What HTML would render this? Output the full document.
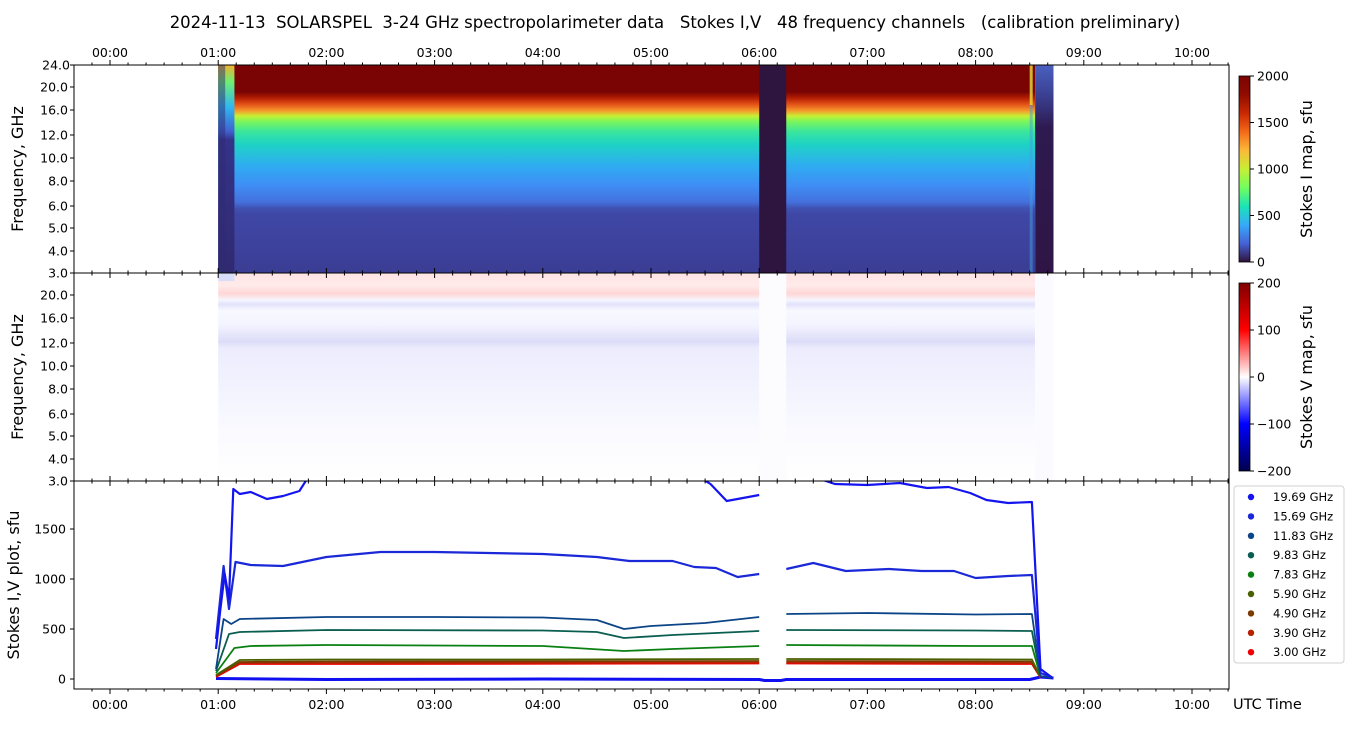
<!DOCTYPE html>
<html><head><meta charset="utf-8"><style>
body{margin:0;background:#fff;font-family:"Liberation Sans","DejaVu Sans",sans-serif;}
svg text{font-family:"DejaVu Sans","Liberation Sans",sans-serif;}
</style></head><body>
<svg id="c" width="1350" height="725" viewBox="0 0 1350 725" xmlns="http://www.w3.org/2000/svg">
<defs>
<linearGradient id="gI" x1="0" y1="65" x2="0" y2="273" gradientUnits="userSpaceOnUse">
<stop offset="0" stop-color="#7a0403"/><stop offset="0.13" stop-color="#7a0403"/>
<stop offset="0.16" stop-color="#b52003"/><stop offset="0.19" stop-color="#e45418"/>
<stop offset="0.22" stop-color="#f59a2c"/><stop offset="0.245" stop-color="#c8ef34"/>
<stop offset="0.27" stop-color="#7ef65a"/><stop offset="0.32" stop-color="#3ae69c"/>
<stop offset="0.38" stop-color="#1ed3c4"/><stop offset="0.48" stop-color="#2eaef0"/>
<stop offset="0.58" stop-color="#3f8df5"/><stop offset="0.66" stop-color="#4470dc"/>
<stop offset="0.69" stop-color="#4050b0"/><stop offset="0.72" stop-color="#3f47a5"/>
<stop offset="1" stop-color="#3b3d94"/></linearGradient>
<linearGradient id="gIe" x1="0" y1="65" x2="0" y2="273" gradientUnits="userSpaceOnUse">
<stop offset="0" stop-color="#f0b030"/><stop offset="0.08" stop-color="#6ef070"/><stop offset="0.2" stop-color="#30b8f0"/><stop offset="0.32" stop-color="#4060d0"/><stop offset="0.36" stop-color="#34338a"/><stop offset="1" stop-color="#302a70"/></linearGradient>
<linearGradient id="gEnd" x1="0" y1="65" x2="0" y2="273" gradientUnits="userSpaceOnUse">
<stop offset="0" stop-color="#4a60c0"/><stop offset="0.15" stop-color="#3a3f90"/><stop offset="0.3" stop-color="#2e1a50"/><stop offset="1" stop-color="#2e1545"/></linearGradient>
<linearGradient id="gV" x1="0" y1="273" x2="0" y2="481" gradientUnits="userSpaceOnUse">
<stop offset="0" stop-color="#ffe4e4"/><stop offset="0.06" stop-color="#ffeaea"/><stop offset="0.1" stop-color="#ffd6d6"/><stop offset="0.13" stop-color="#f6f6ff"/>
<stop offset="0.15" stop-color="#e2e2fb"/><stop offset="0.18" stop-color="#f8f8ff"/><stop offset="0.25" stop-color="#f4f4ff"/>
<stop offset="0.33" stop-color="#dcdcf8"/><stop offset="0.36" stop-color="#ececfd"/><stop offset="0.5" stop-color="#f1f1fe"/>
<stop offset="0.65" stop-color="#f6f6ff"/><stop offset="0.8" stop-color="#fbfbff"/><stop offset="1" stop-color="#ffffff"/></linearGradient>
<linearGradient id="cbI" x1="0" y1="1" x2="0" y2="0">
<stop offset="0" stop-color="#30123b"/><stop offset="0.1" stop-color="#4662d7"/><stop offset="0.2" stop-color="#36aaf9"/><stop offset="0.3" stop-color="#1ae4b6"/><stop offset="0.4" stop-color="#72fe5e"/><stop offset="0.5" stop-color="#c7ef34"/><stop offset="0.6" stop-color="#fbb938"/><stop offset="0.7" stop-color="#f56918"/><stop offset="0.8" stop-color="#c92903"/><stop offset="0.9" stop-color="#900c00"/><stop offset="1" stop-color="#7a0403"/></linearGradient>
<linearGradient id="cbV" x1="0" y1="1" x2="0" y2="0">
<stop offset="0" stop-color="#00004c"/><stop offset="0.25" stop-color="#0000ff"/><stop offset="0.5" stop-color="#ffffff"/><stop offset="0.75" stop-color="#ff0000"/><stop offset="1" stop-color="#800000"/></linearGradient>
<clipPath id="clipB"><rect x="74" y="481" width="1155" height="208"/></clipPath>
</defs>
<g id="root"></g>
</svg>
<script>
const NS="http://www.w3.org/2000/svg";
const root=document.getElementById('root');
function el(t,a,p){const e=document.createElementNS(NS,t);for(const k in a)e.setAttribute(k,a[k]);(p||root).appendChild(e);return e;}
const X0=110, PXH=108.2;
function xs(t){return X0+t*PXH;}
function yb(v){return 679-v*0.1;}
const timeLabels=["00:00","01:00","02:00","03:00","04:00","05:00","06:00","07:00","08:00","09:00","10:00"];
const freqLabels=["20.0","16.0","12.0","10.0","8.0","6.0","5.0","4.0","3.0"];
const freqOffsets=[22,45,70,93,116,141,163,186,208];
const ampTicks=[0,500,1000,1500];
const legendLabels=["19.69 GHz","15.69 GHz","11.83 GHz","9.83 GHz","7.83 GHz","5.90 GHz","4.90 GHz","3.90 GHz","3.00 GHz"];
const seriesColors=["#1414f0","#1a28d8","#0c4488","#0a5e50","#0a8012","#4a6000","#7a3a00","#b82000","#ee0000"];
const s19=[[0.98,300],[1.02,700],[1.06,1050],[1.1,800],[1.14,1900],[1.2,1850],[1.3,1870],[1.45,1800],[1.6,1830],[1.75,1880],[1.85,2050],null,[5.4,2050],[5.55,1950],[5.7,1780],[5.85,1810],[6.0,1840],null,[6.25,1990],[6.45,2040],[6.7,1950],[7.0,1940],[7.3,1960],[7.55,1910],[7.75,1920],[7.95,1860],[8.1,1790],[8.3,1760],[8.52,1770],[8.6,100],[8.7,20]];
const s15=[[0.98,400],[1.05,1130],[1.1,700],[1.16,1170],[1.3,1140],[1.6,1130],[2.0,1220],[2.5,1270],[3.0,1270],[3.5,1260],[4.0,1250],[4.5,1220],[4.8,1180],[5.2,1180],[5.4,1120],[5.6,1110],[5.8,1020],[6.0,1050],null,[6.25,1100],[6.5,1160],[6.8,1080],[7.2,1100],[7.5,1080],[7.8,1080],[8.0,1010],[8.3,1030],[8.52,1040],[8.6,60],[8.7,20]];
const s11=[[0.98,100],[1.05,600],[1.12,550],[1.2,600],[2.0,620],[3.0,620],[4.0,615],[4.5,590],[4.75,500],[5.0,530],[5.5,560],[6.0,620],null,[6.25,650],[7.0,660],[8.0,645],[8.52,650],[8.6,30],[8.7,10]];
const s9=[[0.98,80],[1.1,450],[1.2,470],[2.0,490],[4.0,485],[4.5,470],[4.75,410],[5.2,440],[6.0,480],null,[6.25,490],[8.0,485],[8.52,480],[8.6,30]];
const s7=[[0.98,60],[1.15,310],[1.3,330],[2.0,340],[4.0,330],[4.75,280],[5.2,300],[6.0,330],null,[6.25,340],[8.0,330],[8.52,330],[8.6,25]];
const s5=[[0.98,40],[1.2,190],[2.0,195],[4.0,195],[6.0,200],null,[6.25,200],[8.52,195],[8.6,20]];
const s4=[[0.98,35],[1.2,170],[2.0,175],[6.0,180],null,[6.25,180],[8.52,175],[8.6,20]];
const s3=[[0.98,30],[1.2,160],[2.0,160],[6.0,165],null,[6.25,165],[8.52,160],[8.6,15]];
const s0=[[0.98,20],[1.2,150],[2.0,150],[6.0,155],null,[6.25,155],[8.52,150],[8.6,15]];
const sV=[[0.98,5],[2,-5],[4,0],[6,-5],[6.05,-15],[6.2,-15],[6.25,-5],[8.5,-5],[8.6,20],[8.72,10]];
const allSeries=[s19,s15,s11,s9,s7,s5,s4,s3,s0];

let t=el('text',{x:675,y:28,'text-anchor':'middle','font-size':16.5,fill:'#000',style:'white-space:pre'});
t.textContent="2024-11-13  SOLARSPEL  3-24 GHz spectropolarimeter data   Stokes I,V   48 frequency channels   (calibration preliminary)";



const hm=el('g',{});


el('rect',{x:xs(1.0),y:65,width:xs(8.55)-xs(1.0),height:208,fill:'url(#gI)'},hm);
el('rect',{x:xs(1.0),y:65,width:xs(1.15)-xs(1.0),height:208,fill:'url(#gIe)'},hm);
el('rect',{x:xs(1.0),y:65,width:7,height:208,fill:'#302a70',opacity:0.5},hm);
el('rect',{x:xs(6.0),y:65,width:xs(6.25)-xs(6.0),height:208,fill:'#2e1540'},hm);
el('rect',{x:xs(8.5),y:65,width:3,height:40,fill:'#e8e040',opacity:0.8},hm);
el('rect',{x:xs(8.5),y:105,width:3,height:168,fill:'#40a0e0',opacity:0.5},hm);
el('rect',{x:xs(8.55),y:65,width:xs(8.72)-xs(8.55),height:208,fill:'url(#gEnd)'},hm);
const hv=el('g',{});


el('rect',{x:xs(1.0),y:273,width:xs(8.55)-xs(1.0),height:208,fill:'url(#gV)'},hv);
el('rect',{x:xs(6.0),y:273,width:xs(6.25)-xs(6.0),height:208,fill:'#fcfcff'},hv);
el('rect',{x:xs(8.55),y:273,width:xs(8.72)-xs(8.55),height:208,fill:'#fbfbff'},hv);
el('rect',{x:xs(1.0),y:273,width:xs(1.15)-xs(1.0),height:8,fill:'#d8ddfa'},hv);

const gl=el('g',{'clip-path':'url(#clipB)'});


function drawSeries(s,col,w,name){let d="",pen=false;for(const p of s){if(!p){pen=false;continue;}d+=(pen?"L":"M")+xs(p[0]).toFixed(1)+","+yb(p[1]).toFixed(1);pen=true;}
const pth=el('path',{d:d,fill:'none',stroke:col,'stroke-width':w,'stroke-linejoin':'round'},gl);

}
drawSeries(sV,"#1010f0",3,"stokes-v-baseline");
for(let i=allSeries.length-1;i>=0;i--){drawSeries(allSeries[i],seriesColors[i],i<2?2.2:1.8,"series-"+legendLabels[i].replace(/[ .]/g,'-').toLowerCase());}

[65,273,481].forEach((y,i)=>{const r=el('rect',{x:74,y:y,width:1155,height:208,fill:'none',stroke:'#000','stroke-width':1});

});

const ax=el('g',{});


for(let m=-20;m<=620;m+=10){const x=xs(m/60);if(x<74||x>1229)continue;const maj=m%60===0;const L=maj?5:2.5;
[65,273,481].forEach(y=>{el('line',{x1:x,y1:y,x2:x,y2:y-L,stroke:'#000','stroke-width':1},ax);});
el('line',{x1:x,y1:689,x2:x,y2:689+L,stroke:'#000','stroke-width':1},ax);
[273,481].forEach(y=>{el('line',{x1:x,y1:y,x2:x,y2:y+L,stroke:'#000','stroke-width':1},ax);});}
timeLabels.forEach((s,i)=>{const x=xs(i);
let a=el('text',{x:x,y:57,'text-anchor':'middle','font-size':12.5},ax);a.textContent=s;
let b=el('text',{x:x,y:709,'text-anchor':'middle','font-size':12.5},ax);b.textContent=s;});
let ut=el('text',{x:1233,y:709,'font-size':14.5});ut.textContent="UTC Time";



function freqAxis(top,name,showTop){const g=el('g',{});


if(showTop){let tt=el('text',{x:70,y:top+4.5,'text-anchor':'end','font-size':12.5},g);tt.textContent="24.0";el('line',{x1:74,y1:top,x2:70,y2:top,stroke:'#000'},g);}
freqLabels.forEach((s,i)=>{const y=top+freqOffsets[i];el('line',{x1:74,y1:y,x2:70,y2:y,stroke:'#000'},g);let tx=el('text',{x:68,y:y+4.5,'text-anchor':'end','font-size':12.5},g);tx.textContent=s;});}
freqAxis(65,"stokes-i-y-axis",true);
freqAxis(273,"stokes-v-y-axis",false);
function ytitle(txt,cx,cy,name){const e=el('text',{x:0,y:0,'text-anchor':'middle','font-size':16,transform:`translate(${cx},${cy}) rotate(-90)`});e.textContent=txt;

}
ytitle("Frequency, GHz",23,169,"stokes-i-y-title");
ytitle("Frequency, GHz",23,377,"stokes-v-y-title");
ytitle("Stokes I,V plot, sfu",19,585,"stokes-plot-y-title");
const ga=el('g',{});


ampTicks.forEach(v=>{const y=yb(v);el('line',{x1:74,y1:y,x2:70,y2:y,stroke:'#000'},ga);let tx=el('text',{x:66,y:y+4.5,'text-anchor':'end','font-size':12.5},ga);tx.textContent=v;});

function cbar(top,h,fill,labels,title,name){const g=el('g',{});


el('rect',{x:1239,y:top,width:11,height:h,fill:fill,stroke:'#000','stroke-width':0.8},g);
labels.forEach((s,i)=>{const y=top+h-i*h/(labels.length-1);el('line',{x1:1250,y1:y,x2:1254,y2:y,stroke:'#000'},g);let tx=el('text',{x:1257,y:y+4.5,'font-size':12.5},g);tx.textContent=s;});
const e=el('text',{x:0,y:0,'text-anchor':'middle','font-size':16,transform:`translate(1312,${top+h/2}) rotate(-90)`},g);e.textContent=title;}
cbar(76,186,'url(#cbI)',["0","500","1000","1500","2000"],"Stokes I map, sfu","stokes-i-colorbar");
cbar(283,188,'url(#cbV)',["−200","−100","0","100","200"],"Stokes V map, sfu","stokes-v-colorbar");

const lg=el('g',{});


el('rect',{x:1234,y:486,width:110,height:177,rx:3,fill:'#fff',stroke:'#d0d0d0'},lg);
legendLabels.forEach((s,i)=>{const y=497+i*19.4;const e=el('g',{},lg);


el('circle',{cx:1251,cy:y,r:3.2,fill:seriesColors[i]},e);let tx=el('text',{x:1273,y:y+4,'font-size':11.5},e);tx.textContent=s;});
</script>
</body></html>
